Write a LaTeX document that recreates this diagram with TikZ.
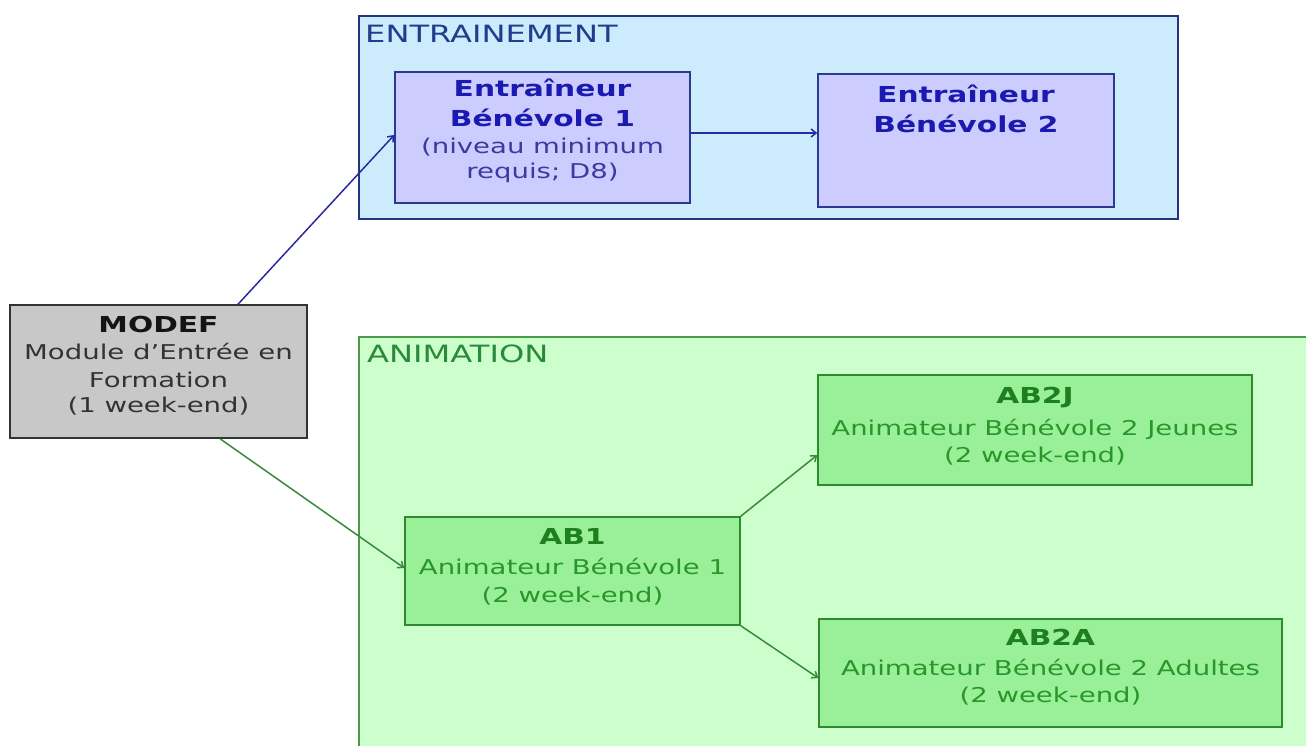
\documentclass[tikz,border=0pt]{standalone}
\usepackage{fontspec}
\setmainfont{DejaVu Sans}[FakeStretch=1.35]
\usetikzlibrary{arrows.meta,calc}
\definecolor{entbg}{HTML}{CCECFE}
\definecolor{entborder}{HTML}{24357F}
\definecolor{entlabel}{HTML}{1F3D8A}
\definecolor{ebfill}{HTML}{CCCCFF}
\definecolor{ebborder}{HTML}{2A3A90}
\definecolor{ebtitle}{HTML}{1A1AB0}
\definecolor{ebsub}{HTML}{3A3AA0}
\definecolor{animbg}{HTML}{CCFFCC}
\definecolor{animborder}{HTML}{4A9A4A}
\definecolor{animlabel}{HTML}{2A8A3A}
\definecolor{abfill}{HTML}{99F099}
\definecolor{abborder}{HTML}{2F8A2F}
\definecolor{abtitle}{HTML}{1E7F1E}
\definecolor{abtext}{HTML}{2A962A}
\definecolor{modeffill}{HTML}{C8C8C8}
\definecolor{modefborder}{HTML}{333333}
\definecolor{bluearr}{HTML}{2A2AA0}
\definecolor{greenarr}{HTML}{3A8A3A}
\newcommand{\ttl}{\bfseries\fontsize{22}{27}\selectfont}
\tikzset{
  entcont/.style={draw=entborder, fill=entbg, line width=1.5pt, inner sep=0},
  ebbox/.style={draw=ebborder, fill=ebfill, line width=1.5pt, inner sep=0},
  abbox/.style={draw=abborder, fill=abfill, line width=1.5pt, inner sep=0},
  modefbox/.style={draw=modefborder, fill=modeffill, line width=1.5pt, inner sep=0},
  txt/.style={anchor=base, inner sep=0, font=\fontsize{20.4}{27}\selectfont},
  lbl/.style={anchor=base west, inner sep=0, font=\fontsize{23.8}{28}\selectfont},
  bluearrow/.style={draw=bluearr, line width=1.5pt, -{Straight Barb[length=5pt,width=8pt]}},
  greenarrow/.style={draw=greenarr, line width=1.5pt, -{Straight Barb[length=5pt,width=8pt]}},
}
\begin{document}
\begin{tikzpicture}[x=1pt,y=-1pt]
\useasboundingbox (0,0) rectangle (1306,746);
\fill[white] (0,0) rectangle (1306,746);
% containers
\node[entcont, minimum width=819, minimum height=203] (ent) at (768.5,117.5) {};
\node[lbl, text=entlabel] (entlbl) at (365,43) {ENTRAINEMENT};
\fill[animbg] (359,337) rectangle (1306,746);
\draw[animborder, line width=1.5pt] (1306,337) -- (359,337) -- (359,746);
\node[lbl, text=animlabel] (animlbl) at (367,362) {ANIMATION};
% boxes
\node[ebbox, minimum width=295, minimum height=131] (eb1) at (542.5,137.5) {};
\node[ebbox, minimum width=296, minimum height=133] (eb2) at (966,140.5) {};
\node[modefbox, minimum width=297, minimum height=133] (modef) at (158.5,371.5) {};
\node[abbox, minimum width=335, minimum height=108] (ab1) at (572.5,571) {};
\node[abbox, minimum width=434, minimum height=110] (ab2j) at (1035,430) {};
\node[abbox, minimum width=463, minimum height=108] (ab2a) at (1050.5,673) {};
% texts
\node[txt, text=ebsub] (eb1t) at (542.5,96.7) {\begin{tabular}[t]{@{}c@{}}
  {\ttl\color{ebtitle}Entraîneur}\\[3pt]
  {\ttl\color{ebtitle}Bénévole 1}\\
  (niveau minimum\\[-2pt]
  requis; D8)\end{tabular}};
\node[txt, text=ebtitle] (eb2t) at (966,102.7) {\begin{tabular}[t]{@{}c@{}}
  {\ttl Entraîneur}\\[3pt]
  {\ttl Bénévole 2}\end{tabular}};
\node[txt, text=black!80] (modeft) at (158.5,332) {\begin{tabular}[t]{@{}c@{}}
  {\ttl\color{black!92}MODEF}\\
  Module d’Entrée en\\[1pt]
  Formation\\[-2pt]
  (1 week-end)\end{tabular}};
\node[txt, text=abtext] (ab1t) at (572.5,544) {\begin{tabular}[t]{@{}c@{}}
  {\ttl\color{abtitle}AB1}\\[3pt]
  Animateur Bénévole 1\\[1pt]
  (2 week-end)\end{tabular}};
\node[txt, text=abtext] (ab2jt) at (1035,403) {\begin{tabular}[t]{@{}c@{}}
  {\ttl\color{abtitle}AB2J}\\[5pt]
  Animateur Bénévole 2 Jeunes\\
  (2 week-end)\end{tabular}};
\node[txt, text=abtext] (ab2at) at (1050.5,645) {\begin{tabular}[t]{@{}c@{}}
  {\ttl\color{abtitle}AB2A}\\[3pt]
  Animateur Bénévole 2 Adultes\\
  (2 week-end)\end{tabular}};
% connectors
\draw[bluearrow] ([xshift=79.5pt]modef.north) -- ([yshift=2.5pt]eb1.west);
\draw[bluearrow] ([yshift=4.5pt]eb1.east) -- ([yshift=4.5pt]eb1.east -| eb2.west);
\draw[greenarrow] ([xshift=61.5pt]modef.south) -- ([yshift=3pt]ab1.west);
\draw[greenarrow] (ab1.north east) -- ([yshift=-25pt]ab2j.west);
\draw[greenarrow] (ab1.south east) -- ([yshift=-5pt]ab2a.west);
\end{tikzpicture}
\end{document}
